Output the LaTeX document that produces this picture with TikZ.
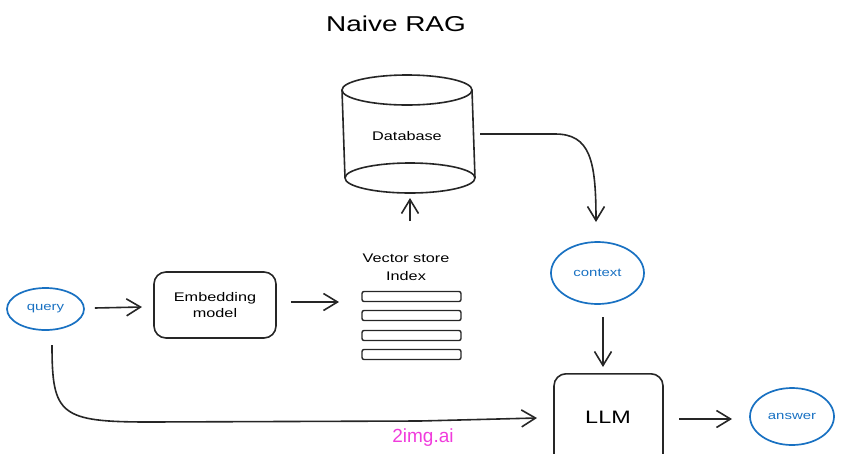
\documentclass[tikz,border=0pt]{standalone}
\usepackage{fontspec}
\setmainfont[FakeStretch=1.3]{Liberation Sans}
\newfontfamily\wmfont{Liberation Sans}
\usetikzlibrary{arrows.meta,shapes.geometric}
\definecolor{exblue}{HTML}{1971C2}
\definecolor{wm}{HTML}{F03CDC}
\tikzset{
  ink/.style={line width=1.6pt, draw=black!85},
  arr/.style={ink, -{Straight Barb[length=14pt,width=17pt,line width=1.6pt]}},
  bluell/.style={ellipse, draw=exblue, line width=1.7pt, text=exblue, inner sep=0pt, font=\fontsize{11.5}{13}\selectfont},
  rbox/.style={draw=black!85, line width=1.6pt, rounded corners=12pt, align=center, font=\fontsize{12.5}{16}\selectfont},
  bar/.style={draw=black!85, line width=1.4pt, rounded corners=2pt, minimum width=99pt, minimum height=10pt, inner sep=0pt},
  lbl/.style={align=center, font=\fontsize{12.5}{18}\selectfont},
}
\begin{document}
\begin{tikzpicture}[x=1pt,y=-1pt]
\useasboundingbox (0,0) rectangle (846,453);
\clip (0,0) rectangle (846,453);
% title
\node[font=\fontsize{21.5}{24}\selectfont] (title) at (396,24) {Naive RAG};
% database cylinder
\draw[ink] (342,90) -- (345,178);
\draw[ink] (472,90) -- (475,178);
\draw[ink, fill=white] (407,90) ellipse [x radius=65, y radius=15];
\draw[ink] (345,178) arc[start angle=180, end angle=360, x radius=65, y radius=15];
\draw[ink] (345,178) arc[start angle=180, end angle=0, x radius=65, y radius=15];
\node[lbl] (db) at (407,136) {Database};
\coordinate (dbbot) at (410,198);
\coordinate (dbright) at (480,134);
% vector store
\node[lbl] (vs) at (406,267) {Vector store\\Index};
\node[bar] (b1) at (411.5,296.5) {};
\node[bar] (b2) at (411.5,315.5) {};
\node[bar] (b3) at (411.5,335.5) {};
\node[bar] (b4) at (411.5,354.5) {};
\coordinate (vsin) at (339,302);
% query
\node[bluell, minimum width=77pt, minimum height=42pt] (query) at (45.5,309) {query};
% embedding
\node[rbox, minimum width=122pt, minimum height=66pt] (emb) at (215,305) {Embedding\\model};
% context
\node[bluell, minimum width=93pt, minimum height=62pt] (context) at (597.5,273) {context};
% LLM
\node[rbox, minimum width=109pt, minimum height=110pt, anchor=north] (llm) at (608.5,373) {};
\node[font=\fontsize{18}{20}\selectfont] (llmt) at (608,417) {LLM};
% answer
\node[bluell, minimum width=84pt, minimum height=57pt] (answer) at (792,416.5) {answer};
% watermark
\node[text=wm, font=\wmfont\fontsize{19}{22}\selectfont] (wmk) at (423,438) {2img.ai};
% connectors
\draw[arr] (query.east) ++(10,-1) coordinate (q1) -- (142,307);
\draw[arr] (emb.east) ++(14,-3) -- (vsin);
\draw[arr] (vs.north) ++(4,-29) coordinate (vstop) -- (dbbot);
\draw[arr] (dbright) -- (555,134) .. controls (590,134) and (596,160) .. (596,222);
\draw[arr] (603,317) -- (603,367);
\draw[arr] (679,419) -- (732,419);
\draw[arr] (52,345) .. controls (52,415) and (60,422) .. (150,422) -- (420,421) -- (537,418);
\end{tikzpicture}
\end{document}
